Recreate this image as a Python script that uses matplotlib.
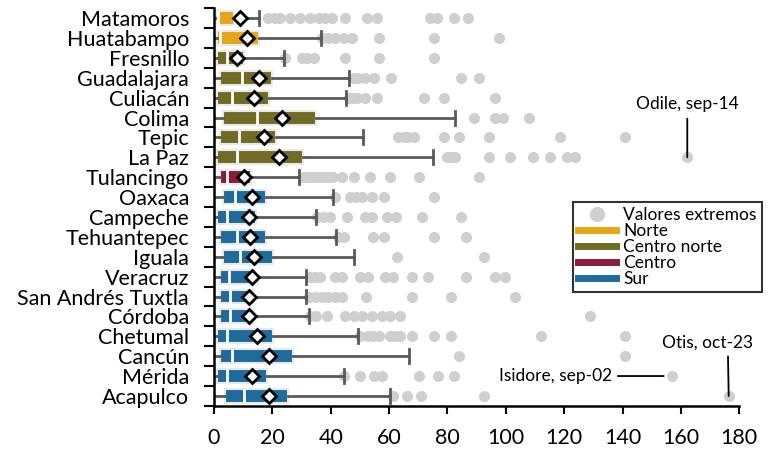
import matplotlib
matplotlib.use("Agg")
import matplotlib.pyplot as plt
from matplotlib.lines import Line2D
import numpy as np

plt.rcParams['font.family'] = ['Lato', 'DejaVu Sans']

# datos (valores en el eje x)
cities = ["Matamoros", "Huatabampo", "Fresnillo", "Guadalajara", "Culiacán",
          "Colima", "Tepic", "La Paz", "Tulancingo", "Oaxaca", "Campeche",
          "Tehuantepec", "Iguala", "Veracruz", "San Andrés Tuxtla", "Córdoba",
          "Chetumal", "Cancún", "Mérida", "Acapulco"]
regions = ["Norte", "Norte", "Centro norte", "Centro norte", "Centro norte",
           "Centro norte", "Centro norte", "Centro norte", "Centro", "Sur",
           "Sur", "Sur", "Sur", "Sur", "Sur", "Sur", "Sur", "Sur", "Sur", "Sur"]
q1 = [1.1, 1.1, 1.1, 2.1, 1.1, 3.0, 2.1, 1.1, 2.1, 3.0,
      1.1, 2.1, 3.0, 2.1, 2.1, 2.1, 1.1, 2.1, 1.1, 3.8]
med = [1.3, 2.1, 4.3, 9.5, 6.1, 14.6, 8.7, 7.8, 4.3, 7.2,
       4.6, 7.8, 8.9, 5.2, 5.5, 5.5, 4.6, 6.1, 4.6, 10.3]
q3 = [6.9, 15.5, 10.3, 19.8, 18.9, 35.0, 21.3, 30.6, 12.7, 17.8,
      14.4, 17.8, 20.3, 13.3, 13.5, 13.5, 20.3, 27.2, 18.1, 25.5]
whis_hi = [15.5, 36.7, 24.0, 46.1, 45.3, 82.7, 51.2, 74.9, 29.2, 40.9,
           35.0, 41.9, 47.8, 31.6, 31.6, 32.4, 49.5, 66.7, 44.4, 60.4]
means = [8.9, 11.2, 7.8, 15.5, 13.7, 23.2, 17.2, 22.3, 10.1, 12.9,
         12.1, 12.4, 13.7, 12.9, 12.1, 12.1, 14.6, 19.0, 12.9, 19.0]
extremos = [
    [18.6, 20.9, 22.6, 26.1, 29.5, 32.9, 35.8, 38.1, 40.4, 44.9, 52.4, 55.8, 74.1, 76.4, 82.1, 87.2],
    [36.9, 39.2, 41.5, 44.4, 47.2, 56.7, 75.5, 97.5],
    [24.4, 30.1, 31.8, 34.1, 44.9, 56.7, 75.5],
    [47.8, 49.5, 51.8, 54.9, 60.6, 84.6, 90.7],
    [46.1, 47.5, 49.0, 51.8, 55.8, 71.8, 78.7, 96.4],
    [89.0, 96.4, 99.2, 107.8],
    [63.2, 65.0, 66.1, 68.4, 78.7, 83.8, 94.1, 118.7, 141.0],
    [79.8, 81.2, 82.7, 94.1, 101.3, 109.3, 115.3, 121.0, 123.8, 162.2],
    [30.6, 31.5, 32.9, 34.0, 35.2, 36.5, 38.1, 39.5, 40.9, 43.8, 48.0, 53.3, 60.4, 70.1, 90.7],
    [41.5, 46.7, 48.5, 50.7, 54.1, 58.1, 75.5],
    [35.2, 37.5, 39.8, 45.5, 51.8, 54.1, 59.2, 62.4, 71.3, 84.6],
    [42.6, 44.4, 54.6, 58.1, 75.5, 86.4],
    [62.7, 92.4],
    [32.9, 34.5, 36.4, 41.5, 43.8, 50.1, 52.9, 58.7, 61.5, 67.8, 73.5, 86.4, 96.4, 99.8],
    [32.4, 34.6, 36.9, 39.2, 41.5, 43.8, 52.1, 67.8, 81.2, 103.3],
    [32.8, 35.0, 38.7, 44.9, 47.8, 50.7, 54.1, 57.5, 60.4, 63.6, 129.0],
    [50.1, 52.9, 54.6, 56.4, 60.4, 62.1, 63.8, 67.8, 75.5, 81.2, 111.9, 141.0],
    [83.8, 141.0],
    [44.6, 50.1, 54.9, 57.5, 70.1, 76.6, 82.1, 157.0],
    [61.3, 66.1, 70.9, 92.4, 176.4],
]
region_names = ["Norte", "Centro norte", "Centro", "Sur"]
region_colors = {"Norte": "#E5A718", "Centro norte": "#716C25",
                 "Centro": "#8E1B3E", "Sur": "#1E6B9C"}

stats = []
for i in range(len(cities)):
    stats.append(dict(label=cities[i], whislo=0.0, q1=q1[i], med=med[i],
                      q3=q3[i], whishi=whis_hi[i], mean=means[i],
                      fliers=extremos[i]))

fig = plt.figure(figsize=(7.7, 4.55), dpi=100)
ax = fig.add_axes([0.278, 0.108, 0.682, 0.874])

pos = np.arange(len(cities))
bp = ax.bxp(stats, positions=pos, widths=0.7, orientation='horizontal',
            patch_artist=True, showmeans=True, capwidths=0.7,
            boxprops=dict(edgecolor='#e9e9e9', linewidth=1.5),
            medianprops=dict(color='white', linewidth=2),
            whiskerprops=dict(color='#595959', linewidth=2),
            capprops=dict(color='#595959', linewidth=2),
            meanprops=dict(marker='D', markerfacecolor='white',
                           markeredgecolor='black', markersize=7,
                           markeredgewidth=2),
            flierprops=dict(marker='o', markerfacecolor='#d0cfcf',
                            markeredgecolor='none', markersize=8))

for box, reg in zip(bp['boxes'], regions):
    box.set_facecolor(region_colors[reg])
for k, cap in enumerate(bp['caps']):
    if k % 2 == 0:
        cap.set_visible(False)
for fl in bp['fliers']:
    fl.set_zorder(1)

ax.set_xlim(0, 180)
ax.set_ylim(len(cities) - 0.5, -0.5)
ax.set_xticks(np.arange(0, 181, 20))
ax.set_yticks(np.arange(-0.5, len(cities), 1))
ax.set_yticklabels([])
ax.set_yticks(pos, minor=True)
ax.set_yticklabels(cities, minor=True, fontsize=15.5)
ax.tick_params(axis='y', which='major', length=7, width=1.5, direction='out')
ax.tick_params(axis='y', which='minor', length=0, pad=18)
ax.tick_params(axis='x', length=6, width=1.5, labelsize=15.5, pad=10)
for s in ['top', 'right']:
    ax.spines[s].set_visible(False)
for s in ['left', 'bottom']:
    ax.spines[s].set_linewidth(1.8)

# anotaciones de huracanes
odile = extremos[cities.index("La Paz")][-1]
ax.annotate("Odile, sep-14", xy=(odile, cities.index("La Paz")),
            xytext=(odile, 4.3), ha='center', va='center', fontsize=12.5,
            arrowprops=dict(arrowstyle='-', color='black', lw=1.3,
                            shrinkA=3, shrinkB=0))
isidore = extremos[cities.index("Mérida")][-1]
ax.annotate("Isidore, sep-02", xy=(isidore, cities.index("Mérida")),
            xytext=(136.5, cities.index("Mérida")), ha='right', va='center',
            fontsize=12.5,
            arrowprops=dict(arrowstyle='-', color='black', lw=1.3,
                            shrinkA=2, shrinkB=6))
otis = extremos[cities.index("Acapulco")][-1]
ax.annotate("Otis, oct-23", xy=(otis, cities.index("Acapulco")),
            xytext=(169.1, 16.33), ha='center', va='center', fontsize=12.5,
            arrowprops=dict(arrowstyle='-', color='black', lw=1.3,
                            relpos=(0.725, 0), shrinkA=2, shrinkB=0))

handles = [Line2D([], [], marker='o', color='none', markerfacecolor='#d0cfcf',
                  markeredgecolor='none', markersize=11)]
for r in region_names:
    handles.append(Line2D([], [], color=region_colors[r], lw=5))
leg = ax.legend(handles, ["Valores extremos"] + region_names,
                loc='upper left', bbox_to_anchor=(573 / 770, 1 - 202 / 455),
                bbox_transform=fig.transFigure, fontsize=12.5, frameon=True,
                fancybox=False, edgecolor='black', handlelength=2.2,
                labelspacing=0.0, borderpad=0.3, handletextpad=0.4,
                borderaxespad=0)
leg.get_frame().set_linewidth(1.5)

fig.savefig("out.png", dpi=100)
